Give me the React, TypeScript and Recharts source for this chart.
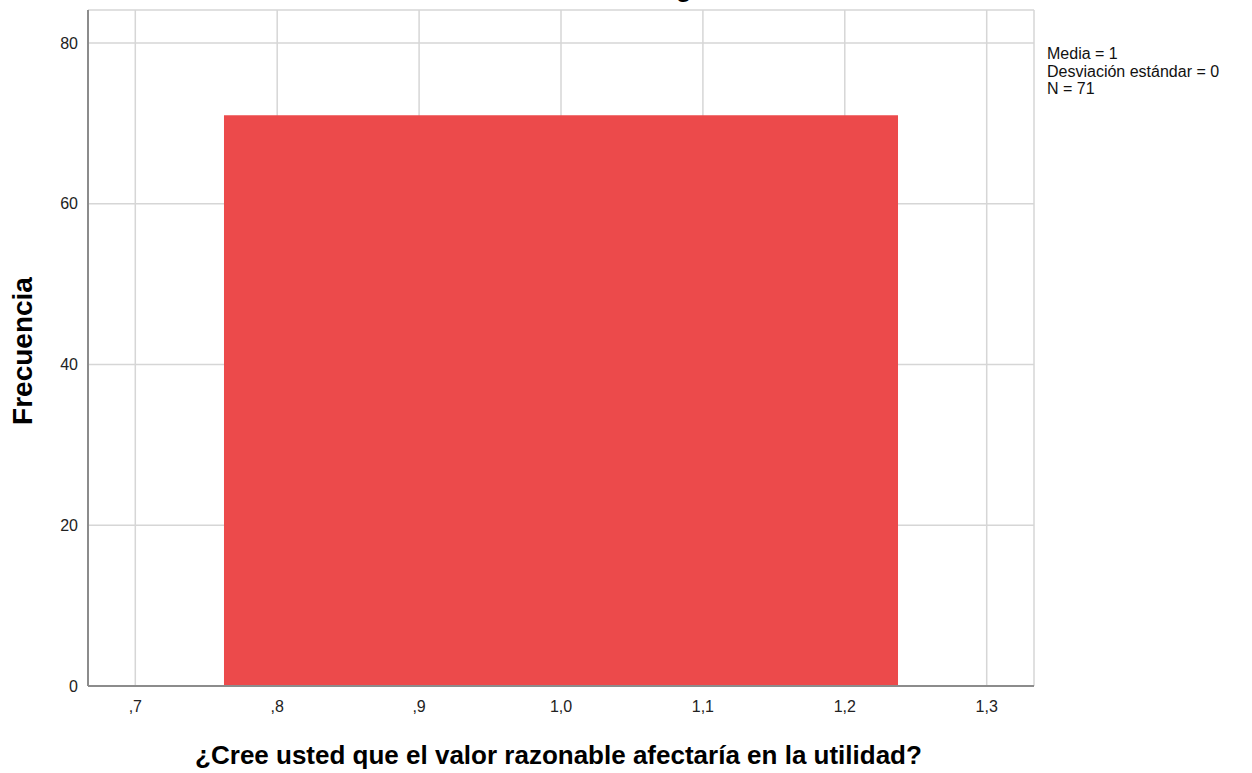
import { ComposedChart, Area, XAxis, YAxis, CartesianGrid } from "recharts";

// histogram bin (one bin holding every answer = 1)
const binStarts = [0.7625];
const binEnds = [1.2375];
const binCounts = [71];

const xTicks = [0.7, 0.8, 0.9, 1.0, 1.1, 1.2, 1.3];
const yTicks = [0, 20, 40, 60, 80];

const statLines = ["Media = 1", "Desviación estándar = 0", "N = 71"];

const data = binStarts.flatMap((s, i) => [
  { x: s, count: binCounts[i] },
  { x: binEnds[i], count: binCounts[i] },
]);

const font = "'Liberation Sans', Arial, sans-serif";

const fmtX = (v: number) => v.toFixed(1).replace(".", ",").replace(/^0/, "");

export default function App() {
  return (
    <div style={{ position: "absolute", left: 0, top: 0, width: 1252, height: 773, overflow: "hidden", background: "#fff", fontFamily: font }}>
      <div
        style={{
          position: "absolute",
          left: 608,
          top: -26,
          fontSize: 27,
          lineHeight: "27px",
          fontWeight: "bold",
          color: "#000",
          whiteSpace: "nowrap",
        }}
      >
        Histograma
      </div>
      <ComposedChart
        width={1252}
        height={773}
        data={data}
        margin={{ top: 10, right: 218, bottom: 0, left: 0 }}
      >
        <CartesianGrid stroke="#d6d6d6" strokeWidth={1.5} />
        <XAxis
          dataKey="x"
          type="number"
          domain={[2 / 3, 4 / 3]}
          ticks={xTicks}
          tickFormatter={fmtX}
          allowDataOverflow
          height={87}
          tickLine={false}
          tickSize={6}
          tickMargin={9}
          stroke="#8c8c8c"
          strokeWidth={2}
          tick={{ fill: "#222", fontSize: 16, fontFamily: font }}
        />
        <YAxis
          type="number"
          domain={[0, 84.1]}
          ticks={yTicks}
          width={88}
          tickLine={false}
          tickSize={6}
          tickMargin={4}
          stroke="#8c8c8c"
          strokeWidth={2}
          tick={{ fill: "#222", fontSize: 16, fontFamily: font }}
        />
        <Area
          type="linear"
          dataKey="count"
          stroke="none"
          fill="#ec4a4b"
          fillOpacity={1}
          isAnimationActive={false}
          dot={false}
          activeDot={false}
        />
      </ComposedChart>
      <div
        style={{
          position: "absolute",
          left: 0,
          top: 351 - 14,
          width: 0,
          height: 0,
        }}
      >
        <div
          style={{
            position: "absolute",
            left: 23,
            top: 0,
            transform: "translate(-50%, 0) rotate(-90deg)",
            transformOrigin: "50% 14px",
            fontSize: 28,
            lineHeight: "28px",
            fontWeight: "bold",
            color: "#000",
            whiteSpace: "nowrap",
          }}
        >
          Frecuencia
        </div>
      </div>
      <div
        style={{
          position: "absolute",
          left: 0,
          width: 1117,
          top: 741,
          textAlign: "center",
          fontSize: 26,
          lineHeight: "28px",
          fontWeight: "bold",
          color: "#000",
          whiteSpace: "nowrap",
        }}
      >
        ¿Cree usted que el valor razonable afectaría en la utilidad?
      </div>
      <div
        style={{
          position: "absolute",
          left: 1047,
          top: 45,
          fontSize: 16,
          lineHeight: "17.5px",
          color: "#111",
          whiteSpace: "nowrap",
        }}
      >
        {statLines.map((l) => (
          <div key={l}>{l}</div>
        ))}
      </div>
    </div>
  );
}
